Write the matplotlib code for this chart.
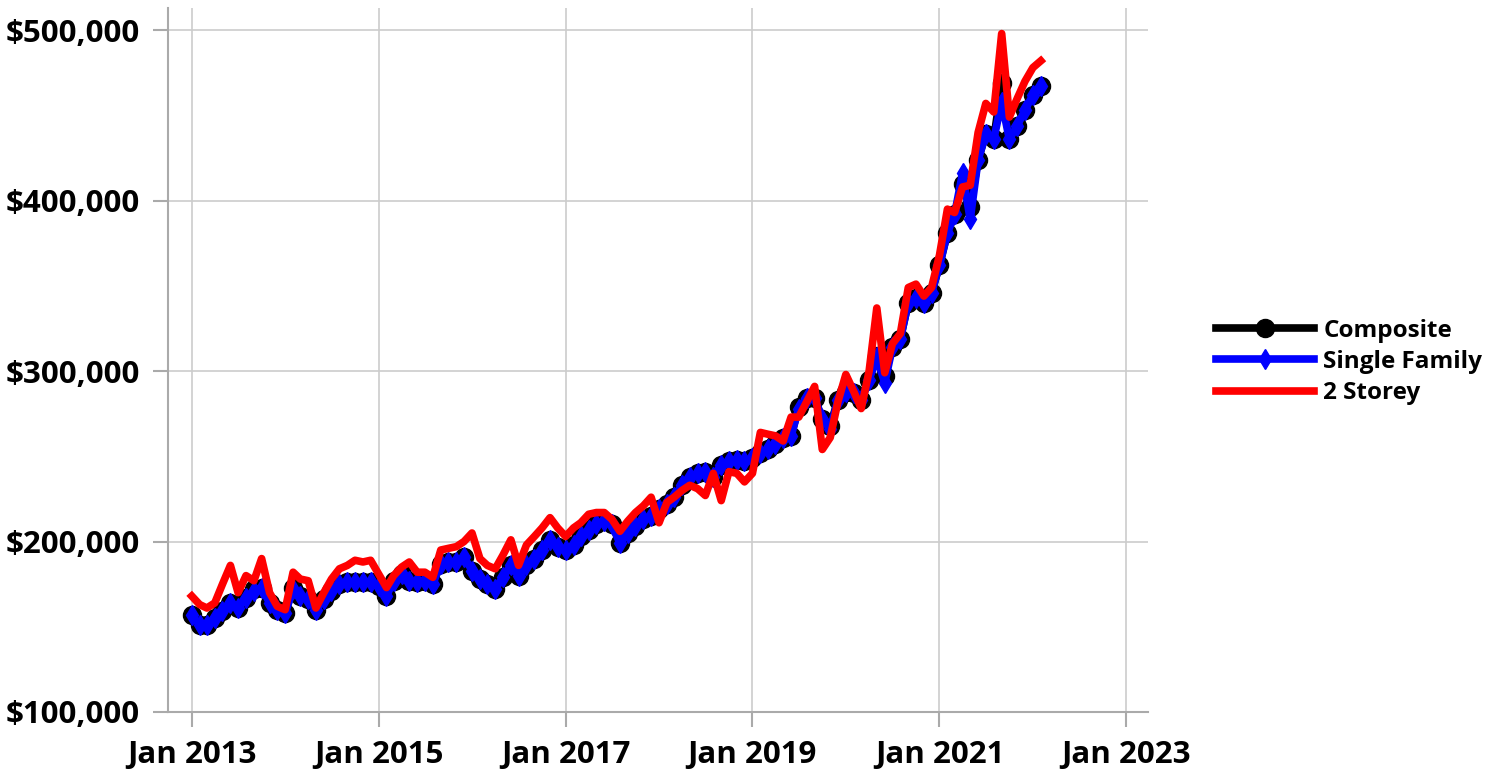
import pandas as pd
import matplotlib.pyplot as plt
import matplotlib.dates as mdates
from matplotlib.ticker import FuncFormatter

plt.rcParams['font.family'] = ['Open Sans', 'DejaVu Sans']
plt.rcParams['font.weight'] = 'bold'

## Monthly benchmark prices, Jan 2013 - Feb 2022 (in thousands of dollars)
months = pd.date_range('2013-01-01', periods=110, freq='MS')

composite = [
    157, 151, 151, 155, 159, 164, 161, 167, 172, 173, 164, 160,   # 2013
    158, 173, 168, 166, 160, 166, 171, 175, 176, 176, 176, 176,   # 2014
    174, 168, 177, 181, 177, 176, 177, 175, 187, 188, 188, 191,   # 2015
    183, 178, 175, 172, 179, 186, 180, 186, 190, 195, 201, 197,   # 2016
    195, 198, 203, 207, 210, 212, 210, 199, 205, 209, 213, 215,   # 2017
    219, 222, 226, 233, 238, 240, 241, 238, 245, 247, 248, 247,   # 2018
    249, 252, 254, 257, 261, 262, 279, 284, 284, 272, 268, 283,   # 2019
    288, 287, 283, 295, 309, 297, 314, 319, 340, 343, 340, 346,   # 2020
    362, 381, 392, 410, 396, 424, 439, 436, 469, 436, 444, 453,   # 2021
    462, 467,                                                     # 2022
]

single_family = [
    157, 151, 151, 155, 159, 164, 161, 167, 171, 173, 164, 160,
    158, 172, 168, 166, 160, 166, 171, 175, 176, 176, 176, 176,
    174, 168, 177, 181, 177, 176, 177, 175, 187, 188, 188, 191,
    183, 178, 175, 172, 179, 186, 180, 186, 190, 195, 201, 197,
    195, 198, 203, 207, 210, 212, 210, 199, 205, 209, 213, 215,
    219, 222, 226, 233, 238, 240, 241, 238, 245, 247, 248, 247,
    249, 252, 254, 257, 261, 262, 278, 284, 284, 272, 266, 283,
    288, 287, 283, 295, 308, 293, 314, 319, 340, 343, 340, 346,
    362, 381, 392, 416, 389, 424, 439, 436, 458, 436, 444, 453,
    462, 467,
]

two_storey = [
    168, 163, 161, 164, 175, 186, 170, 180, 177, 190, 170, 162,
    160, 182, 178, 177, 161, 170, 178, 184, 186, 189, 188, 189,
    181, 173, 180, 185, 188, 182, 182, 179, 195, 196, 197, 200,
    205, 190, 186, 184, 192, 201, 186, 198, 203, 208, 214, 208,
    203, 208, 211, 216, 217, 217, 213, 206, 212, 217, 221, 226,
    211, 223, 226, 230, 233, 231, 227, 240, 224, 241, 240, 235,
    240, 264, 263, 262, 259, 273, 273, 282, 291, 254, 261, 282,
    298, 288, 278, 300, 337, 299, 316, 322, 349, 351, 344, 349,
    368, 395, 393, 408, 409, 440, 457, 452, 498, 449, 460, 470,
    478, 482,
]

tick_years = [2013, 2015, 2017, 2019, 2021, 2023]

df = pd.DataFrame({'Composite': composite,
                   'Single Family': single_family,
                   '2 Storey': two_storey}, index=months) * 1000

fig = plt.figure(figsize=(14.97, 7.75), dpi=100)
ax = fig.add_axes([0.1122, 0.0813, 0.7669 - 0.1122, 0.9897 - 0.0813])

ax.plot(df.index, df['Composite'], color='black', lw=5.5, marker='o',
        markersize=13, label='Composite', zorder=3)
ax.plot(df.index, df['Single Family'], color='blue', lw=5.5, marker='d',
        markersize=10, label='Single Family', zorder=4)
ax.plot(df.index, df['2 Storey'], color='red', lw=5.5,
        label='2 Storey', zorder=5)

## axis ranges and ticks
ax.set_xlim(pd.Timestamp('2012-09-30'), pd.Timestamp('2023-03-27'))
ax.set_ylim(100000, 513000)
ax.set_yticks([100000, 200000, 300000, 400000, 500000])
ax.yaxis.set_major_formatter(FuncFormatter(lambda v, p: '${:,.0f}'.format(v)))
ax.set_xticks([pd.Timestamp(year=y, month=1, day=1) for y in tick_years])
ax.xaxis.set_major_formatter(mdates.DateFormatter('Jan %Y'))

ax.grid(True, color='#cccccc', lw=1.2)
ax.set_axisbelow(True)
for side in ['top', 'right']:
    ax.spines[side].set_visible(False)
for side in ['left', 'bottom']:
    ax.spines[side].set_color('#aaaaaa')
    ax.spines[side].set_linewidth(1.5)
ax.tick_params(axis='both', length=11, width=1.5, color='#aaaaaa',
               labelsize=22.5, pad=9)
for lab in ax.get_xticklabels() + ax.get_yticklabels():
    lab.set_fontweight('bold')

fig.legend(loc='center left', bbox_to_anchor=(0.798, 0.533), frameon=False,
           prop={'size': 17.5, 'weight': 'bold'}, handlelength=4.0,
           handletextpad=0.4, labelspacing=0.3)

plt.savefig('out.png', dpi=100)
plt.close()
